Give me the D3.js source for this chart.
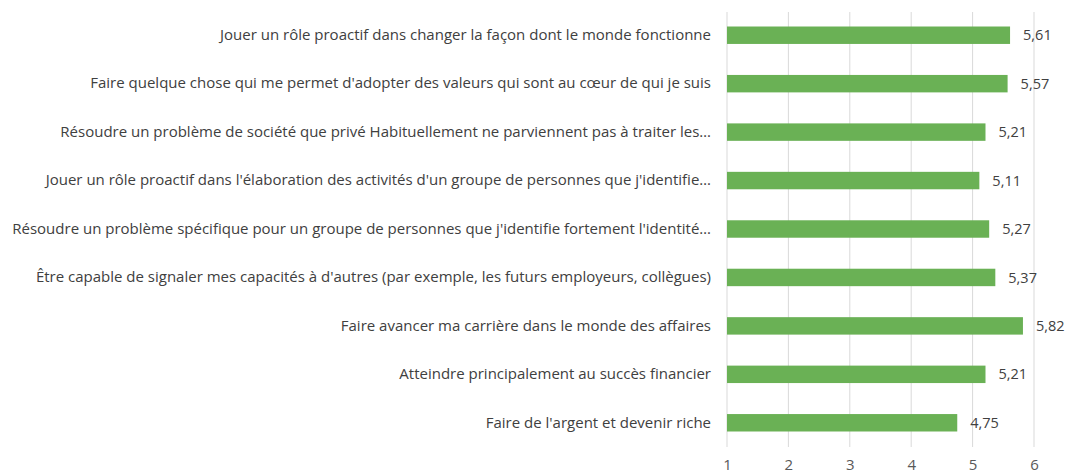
<!DOCTYPE html>
<html>
<head>
<meta charset="utf-8">
<script src="https://cdn.jsdelivr.net/npm/d3@7"></script>
<style>
  body { margin: 0; background: #fff; }
</style>
</head>
<body>
<div id="chart"></div>
<script>
// categories, top to bottom
var categories = [
  "Jouer un rôle proactif dans changer la façon dont le monde fonctionne",
  "Faire quelque chose qui me permet d'adopter des valeurs qui sont au cœur de qui je suis",
  "Résoudre un problème de société que privé Habituellement ne parviennent pas à traiter les…",
  "Jouer un rôle proactif dans l'élaboration des activités d'un groupe de personnes que j'identifie…",
  "Résoudre un problème spécifique pour un groupe  de personnes que j'identifie fortement l'identité…",
  "Être capable de signaler mes capacités à d'autres (par exemple, les futurs employeurs, collègues)",
  "Faire avancer ma carrière dans le monde des affaires",
  "Atteindre principalement au succès financier",
  "Faire de l'argent et devenir riche"
];
var values = [5.61, 5.57, 5.21, 5.11, 5.27, 5.37, 5.82, 5.21, 4.75];
var ticks = [1, 2, 3, 4, 5, 6];

var width = 1091, height = 473;
var margin = {top: 11, right: 57, bottom: 26, left: 727};

var svg = d3.select("#chart").append("svg")
  .attr("width", width)
  .attr("height", height);

var x = d3.scaleLinear()
  .domain([1, 6])
  .range([margin.left, width - margin.right]);

var y = d3.scaleBand()
  .domain(categories)
  .range([margin.top, height - margin.bottom])
  .paddingInner(0.64)
  .paddingOuter(0.32);

var font = "'Open Sans', sans-serif";

// gridlines
svg.append("g")
  .selectAll("line")
  .data(ticks)
  .enter().append("line")
  .attr("x1", function(d) { return x(d); })
  .attr("x2", function(d) { return x(d); })
  .attr("y1", margin.top + 1)
  .attr("y2", height - margin.bottom)
  .attr("stroke", "#d9d9d9")
  .attr("stroke-width", 1);

// x axis labels
var xAxis = d3.axisBottom(x).tickValues(ticks).tickSize(0).tickPadding(12)
  .tickFormat(d3.format("d"));
var gx = svg.append("g")
  .attr("transform", "translate(0," + (height - margin.bottom) + ")")
  .call(xAxis);
gx.select(".domain").remove();
gx.selectAll("text")
  .style("font-family", font)
  .style("font-size", "15px")
  .style("fill", "#595959");

// bars
svg.append("g")
  .selectAll("rect")
  .data(values)
  .enter().append("rect")
  .attr("x", x(1))
  .attr("y", function(d, i) { return y(categories[i]); })
  .attr("width", function(d) { return x(d) - x(1); })
  .attr("height", y.bandwidth())
  .attr("fill", "#6ab155");

// value labels
svg.append("g")
  .selectAll("text")
  .data(values)
  .enter().append("text")
  .attr("x", function(d) { return x(d) + 13; })
  .attr("y", function(d, i) { return y(categories[i]) + y.bandwidth() / 2; })
  .attr("dy", "0.35em")
  .text(function(d) { return d3.format(".2f")(d).replace(".", ","); })
  .style("font-family", font)
  .style("font-size", "14.5px")
  .style("fill", "#404040");

// category labels
var yAxis = d3.axisLeft(y).tickSize(0).tickPadding(16);
var gy = svg.append("g")
  .attr("transform", "translate(" + margin.left + ",0)")
  .call(yAxis);
gy.select(".domain").remove();
gy.selectAll("text")
  .style("font-family", font)
  .style("font-size", "15px")
  .style("fill", "#404040");
</script>
</body>
</html>
